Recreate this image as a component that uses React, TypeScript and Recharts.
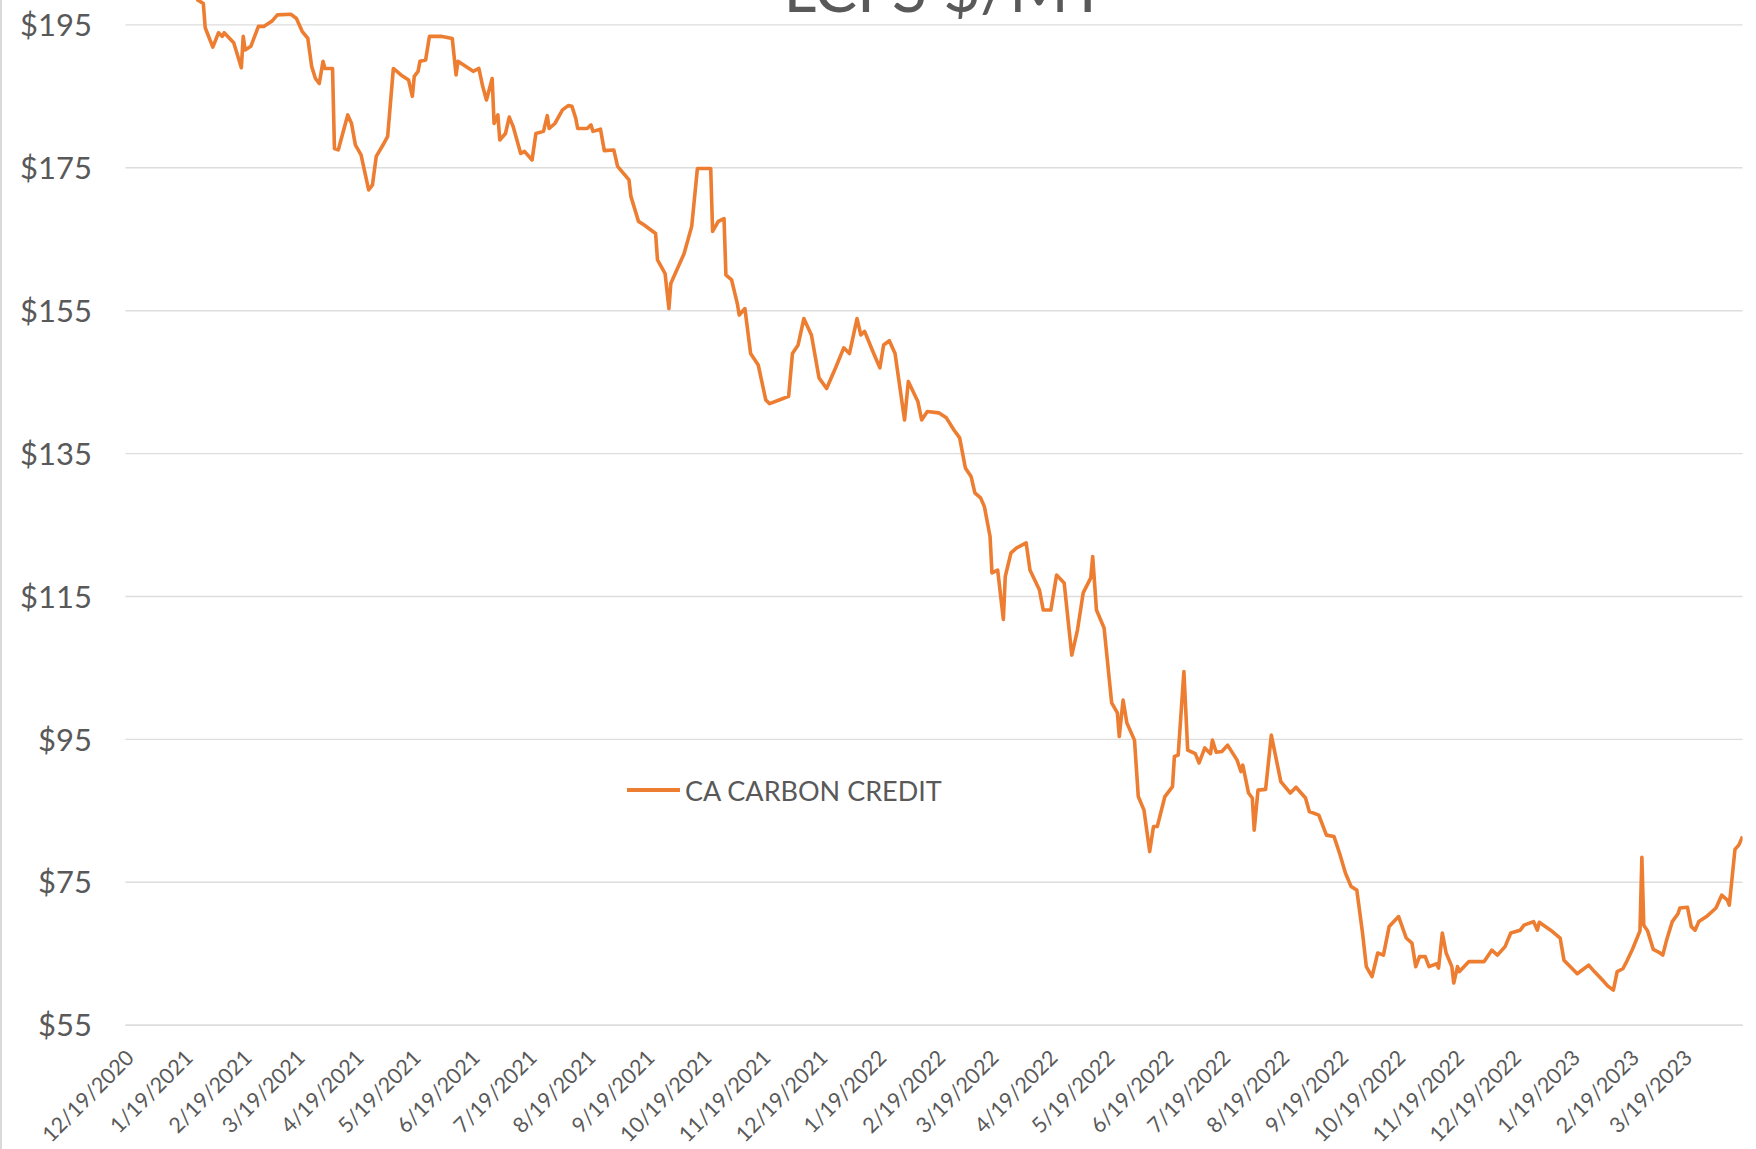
import React from 'react';
import { LineChart, Line, XAxis, YAxis, CartesianGrid, Legend } from 'recharts';

const dates = [
  '2020-12-19', '2020-12-23', '2020-12-29', '2021-01-05', '2021-01-12', '2021-01-19', '2021-01-23',
  '2021-01-26', '2021-01-29', '2021-01-30', '2021-02-03', '2021-02-06', '2021-02-08', '2021-02-09',
  '2021-02-14', '2021-02-18', '2021-02-19', '2021-02-20', '2021-02-23', '2021-02-27', '2021-03-02',
  '2021-03-06', '2021-03-09', '2021-03-16', '2021-03-19', '2021-03-22', '2021-03-25', '2021-03-27',
  '2021-03-29', '2021-03-31', '2021-04-02', '2021-04-03', '2021-04-07', '2021-04-08', '2021-04-10',
  '2021-04-15', '2021-04-17', '2021-04-19', '2021-04-22', '2021-04-26', '2021-04-28', '2021-04-30',
  '2021-05-04', '2021-05-06', '2021-05-09', '2021-05-13', '2021-05-17', '2021-05-19', '2021-05-20',
  '2021-05-22', '2021-05-23', '2021-05-26', '2021-05-28', '2021-06-03', '2021-06-09', '2021-06-11',
  '2021-06-12', '2021-06-16', '2021-06-20', '2021-06-23', '2021-06-25', '2021-06-27', '2021-06-30',
  '2021-07-01', '2021-07-03', '2021-07-04', '2021-07-07', '2021-07-09', '2021-07-11', '2021-07-15',
  '2021-07-17', '2021-07-21', '2021-07-23', '2021-07-27', '2021-07-29', '2021-07-30', '2021-08-02',
  '2021-08-06', '2021-08-09', '2021-08-11', '2021-08-13', '2021-08-14', '2021-08-19', '2021-08-21',
  '2021-08-22', '2021-08-26', '2021-08-28', '2021-09-02', '2021-09-04', '2021-09-10', '2021-09-11',
  '2021-09-15', '2021-09-18', '2021-09-24', '2021-09-25', '2021-09-29', '2021-10-01', '2021-10-02',
  '2021-10-09', '2021-10-13', '2021-10-16', '2021-10-23', '2021-10-24', '2021-10-27', '2021-10-30',
  '2021-10-31', '2021-11-03', '2021-11-06', '2021-11-07', '2021-11-10', '2021-11-13', '2021-11-17',
  '2021-11-21', '2021-11-23', '2021-11-28', '2021-12-03', '2021-12-05', '2021-12-08', '2021-12-11',
  '2021-12-15', '2021-12-19', '2021-12-23', '2021-12-28', '2022-01-01', '2022-01-04', '2022-01-08',
  '2022-01-10', '2022-01-12', '2022-01-16', '2022-01-20', '2022-01-22', '2022-01-25', '2022-01-28',
  '2022-02-02', '2022-02-04', '2022-02-09', '2022-02-11', '2022-02-14', '2022-02-20', '2022-02-24',
  '2022-02-28', '2022-03-03', '2022-03-06', '2022-03-09', '2022-03-11', '2022-03-14', '2022-03-16',
  '2022-03-19', '2022-03-20', '2022-03-23', '2022-03-26', '2022-03-27', '2022-03-30', '2022-04-02',
  '2022-04-07', '2022-04-09', '2022-04-14', '2022-04-16', '2022-04-20', '2022-04-23', '2022-04-27',
  '2022-05-01', '2022-05-04', '2022-05-07', '2022-05-11', '2022-05-12', '2022-05-14', '2022-05-18',
  '2022-05-22', '2022-05-25', '2022-05-26', '2022-05-28', '2022-05-30', '2022-06-03', '2022-06-05',
  '2022-06-08', '2022-06-11', '2022-06-13', '2022-06-15', '2022-06-19', '2022-06-23', '2022-06-24',
  '2022-06-26', '2022-06-29', '2022-07-01', '2022-07-05', '2022-07-07', '2022-07-10', '2022-07-13',
  '2022-07-14', '2022-07-16', '2022-07-19', '2022-07-22', '2022-07-27', '2022-07-29', '2022-07-30',
  '2022-08-02', '2022-08-04', '2022-08-05', '2022-08-07', '2022-08-11', '2022-08-14', '2022-08-19',
  '2022-08-24', '2022-08-27', '2022-09-01', '2022-09-03', '2022-09-08', '2022-09-12', '2022-09-16',
  '2022-09-19', '2022-09-22', '2022-09-25', '2022-09-28', '2022-10-01', '2022-10-03', '2022-10-06',
  '2022-10-09', '2022-10-12', '2022-10-15', '2022-10-20', '2022-10-24', '2022-10-27', '2022-10-29',
  '2022-10-31', '2022-11-03', '2022-11-05', '2022-11-09', '2022-11-10', '2022-11-12', '2022-11-14',
  '2022-11-17', '2022-11-18', '2022-11-20', '2022-11-21', '2022-11-26', '2022-12-02', '2022-12-04',
  '2022-12-08', '2022-12-11', '2022-12-15', '2022-12-18', '2022-12-23', '2022-12-25', '2022-12-30',
  '2023-01-01', '2023-01-02', '2023-01-08', '2023-01-13', '2023-01-15', '2023-01-22', '2023-01-28',
  '2023-01-31', '2023-02-05', '2023-02-07', '2023-02-10', '2023-02-12', '2023-02-15', '2023-02-17',
  '2023-02-20', '2023-02-24', '2023-02-25', '2023-02-26', '2023-02-28', '2023-03-03', '2023-03-06',
  '2023-03-08', '2023-03-10', '2023-03-13', '2023-03-16', '2023-03-17', '2023-03-21', '2023-03-23',
  '2023-03-25', '2023-03-27', '2023-03-31', '2023-04-05', '2023-04-08', '2023-04-11', '2023-04-12',
  '2023-04-15', '2023-04-17', '2023-04-19',
];

const prices = [
  203, 202, 204, 206, 205, 204, 202,
  198.5, 198, 194.6, 191.9, 193.9, 193.4, 193.9,
  192.5, 189, 193.4, 191.5, 192, 194.8, 194.8,
  195.5, 196.4, 196.5, 195.9, 194.1, 193.1, 189.2,
  187.5, 186.8, 189.9, 188.9, 188.9, 177.7, 177.5,
  182.4, 181.2, 178.2, 176.8, 171.9, 172.6, 176.6,
  178.4, 179.4, 188.9, 188, 187.3, 185, 187.8,
  188.5, 189.9, 190.1, 193.4, 193.4, 193.1, 188,
  189.9, 189.2, 188.5, 188.9, 186.4, 184.5, 187.5,
  181.2, 182.4, 178.9, 179.8, 182.1, 180.8, 177,
  177.3, 176.1, 179.8, 180.1, 182.3, 180.5, 181.2,
  183.1, 183.7, 183.6, 181.9, 180.5, 180.5, 181,
  180.1, 180.4, 177.4, 177.5, 175.2, 173.3, 171,
  167.5, 167, 165.8, 162.1, 160.2, 155.3, 158.8,
  163, 166.8, 174.9, 174.9, 166.1, 167.5, 167.9,
  160, 159.3, 156, 154.4, 155.3, 149, 147.4,
  142.5, 142, 142.5, 143, 149, 150.2, 153.9,
  151.6, 145.6, 144.1, 147.2, 149.8, 149, 153.9,
  151.6, 152.1, 149.5, 147, 150.2, 150.8, 149,
  139.7, 145.1, 142.3, 139.7, 140.9, 140.7, 140,
  138.3, 137.2, 133, 131.8, 129.5, 128.8, 127.6,
  123.4, 118.3, 118.7, 111.8, 117.8, 121.1, 121.8,
  122.5, 118.7, 115.9, 113.1, 113.1, 118, 116.9,
  106.8, 110.3, 115.5, 117.6, 120.6, 113.1, 110.6,
  100.1, 98.7, 95.4, 100.5, 97.3, 94.9, 87,
  85.1, 79.3, 82.8, 82.8, 87, 88.4, 92.6,
  92.8, 104.5, 93.5, 93, 91.7, 93.8, 93,
  94.9, 93.2, 93.3, 94.2, 92.1, 90.5, 91.4,
  87.5, 86.8, 82.3, 87.9, 88, 95.6, 89.1,
  87.5, 88.3, 86.8, 84.9, 84.4, 81.6, 81.4,
  79, 76.3, 74.4, 73.9, 67.9, 63.2, 61.8,
  65.1, 64.8, 68.8, 70.2, 67.2, 66.5, 63.2,
  64.6, 64.6, 63.2, 63.6, 63, 67.9, 65.1,
  63.2, 60.9, 63.2, 62.5, 63.9, 63.9, 63.9,
  65.5, 64.8, 66, 67.9, 68.3, 69, 69.5,
  68.3, 69.4, 68.3, 67.2, 64.1, 62.2, 63.4,
  62.5, 61.1, 60.5, 59.9, 62.5, 62.9, 63.9,
  65.6, 68.2, 78.5, 69, 68.2, 65.6, 65.2,
  64.8, 66.9, 69.5, 70.6, 71.4, 71.5, 68.8,
  68.3, 69.5, 70.2, 71.4, 73.2, 72.5, 71.8,
  79.6, 80.2, 81.4,
];

const tickLabels = [
  '12/19/2020', '1/19/2021', '2/19/2021', '3/19/2021', '4/19/2021', '5/19/2021', '6/19/2021',
  '7/19/2021', '8/19/2021', '9/19/2021', '10/19/2021', '11/19/2021', '12/19/2021', '1/19/2022',
  '2/19/2022', '3/19/2022', '4/19/2022', '5/19/2022', '6/19/2022', '7/19/2022', '8/19/2022',
  '9/19/2022', '10/19/2022', '11/19/2022', '12/19/2022', '1/19/2023', '2/19/2023', '3/19/2023',
];

const yTicks = [55, 75, 95, 115, 135, 155, 175, 195, 215];
const seriesName = 'CA CARBON CREDIT';
const titleText = 'LCFS $/MT';
const xStart = '2020-12-19';
const xEnd = '2023-04-19';

const toTs = (iso: string) => Date.parse(iso + 'T00:00:00Z');
const labelToTs = (l: string) => {
  const [m, d, y] = l.split('/').map(Number);
  return Date.UTC(y, m - 1, d);
};
const fmtDate = (ts: number) => {
  const dt = new Date(ts);
  return `${dt.getUTCMonth() + 1}/${dt.getUTCDate()}/${dt.getUTCFullYear()}`;
};

const data = dates.map((d, i) => ({ ts: toTs(d), price: prices[i] }));
const xTicks = tickLabels.map(labelToTs);

const FONT = "Lato, 'DejaVu Sans', sans-serif";
const TEXT = '#595959';
const ORANGE = '#ED7D31';

const CHART_TOP = -117.9;
const PLOT_H = 1143.2;
const XAXIS_H = 130;
const YAXIS_W = 125.4;

const XTick = (props: any) => {
  const { x, y, payload } = props;
  const ax = x + 10;
  const ay = y + 34;
  return (
    <text
      x={ax}
      y={ay}
      transform={`rotate(-45 ${ax} ${ay})`}
      textAnchor="end"
      fontSize={21.5}
      fill={TEXT}
      fontFamily={FONT}
    >
      {fmtDate(payload.value)}
    </text>
  );
};

const YTick = (props: any) => {
  const { y, payload } = props;
  return (
    <text x={92} y={y} dy="0.36em" textAnchor="end" fontSize={31} fill={TEXT} fontFamily={FONT}>
      {`$${payload.value}`}
    </text>
  );
};

const renderLegend = () => (
  <div
    style={{
      display: 'flex',
      alignItems: 'center',
      height: 40,
      fontFamily: FONT,
      fontSize: 27,
      color: TEXT,
      whiteSpace: 'nowrap',
    }}
  >
    <span style={{ display: 'inline-block', width: 53, height: 3.5, background: ORANGE, marginRight: 5 }} />
    <span>{seriesName}</span>
  </div>
);

export default function App() {
  return (
    <div
      style={{
        position: 'absolute',
        left: 0,
        top: 0,
        width: 1756,
        height: 1149,
        overflow: 'hidden',
        background: '#ffffff',
      }}
    >
      <div style={{ position: 'absolute', left: 0, top: CHART_TOP }}>
        <LineChart
          width={1756}
          height={PLOT_H + XAXIS_H}
          data={data}
          margin={{ top: 0, right: 13.4, bottom: 0, left: 0 }}
        >
          <CartesianGrid horizontal vertical={false} stroke="#DDDDDD" strokeWidth={1.4} />
          <XAxis
            dataKey="ts"
            type="number"
            domain={[toTs(xStart), toTs(xEnd)]}
            ticks={xTicks}
            interval={0}
            height={XAXIS_H}
            tickSize={0}
            tickMargin={0}
            tickLine={false}
            axisLine={{ stroke: '#DDDDDD', strokeWidth: 1.4 }}
            tick={<XTick />}
            allowDataOverflow
          />
          <YAxis
            type="number"
            domain={[55, 215]}
            ticks={yTicks}
            interval={0}
            width={YAXIS_W}
            tickSize={0}
            tickLine={false}
            axisLine={false}
            tick={<YTick />}
            allowDataOverflow
          />
          <Legend
            verticalAlign="middle"
            align="center"
            layout="horizontal"
            content={renderLegend}
            wrapperStyle={{ left: 627, top: 790 - CHART_TOP - 20, width: 340, height: 40 }}
          />
          <Line
            type="linear"
            dataKey="price"
            name={seriesName}
            stroke={ORANGE}
            strokeWidth={3.6}
            strokeLinejoin="round"
            dot={false}
            activeDot={false}
            isAnimationActive={false}
          />
        </LineChart>
      </div>
      <svg
        width={1756}
        height={40}
        style={{ position: 'absolute', left: 0, top: 0, pointerEvents: 'none' }}
      >
        <text x={945} y={12} textAnchor="middle" fontSize={64} fill={TEXT} fontFamily={FONT}>
          {titleText}
        </text>
      </svg>
      <div style={{ position: 'absolute', left: 0, top: 0, width: 2, height: 1149, background: '#D9D9D9' }} />
    </div>
  );
}
